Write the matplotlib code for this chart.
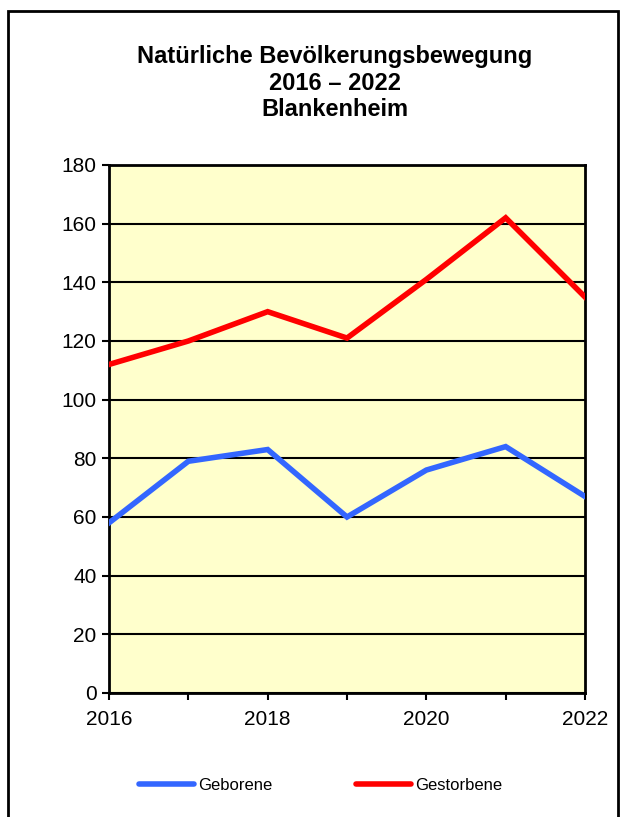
import matplotlib
matplotlib.use('Agg')
import matplotlib.pyplot as plt
from matplotlib.patches import Rectangle
from matplotlib.lines import Line2D

plt.rcParams['font.family'] = ['Liberation Sans', 'DejaVu Sans']

# Daten
jahre = [2016, 2017, 2018, 2019, 2020, 2021, 2022]
geborene = [58, 79, 83, 60, 76, 84, 67]
gestorbene = [112, 120, 130, 121, 141, 162, 135]
x_labels = ['2016', '', '2018', '', '2020', '', '2022']

fig = plt.figure(figsize=(6.25, 8.17), dpi=100)
fig.patches.append(Rectangle((8 / 625, -0.05), 610 / 625, 1.05 - 11 / 817,
                             transform=fig.transFigure, fill=False,
                             edgecolor='black', linewidth=2))

ax = fig.add_axes([109 / 625, 1 - 693 / 817, 476 / 625, 528 / 817])
ax.set_facecolor('#FFFFCC')

ax.plot(jahre, geborene, color='#3366FF', linewidth=4, label='Geborene',
        solid_joinstyle='miter', zorder=3)
ax.plot(jahre, gestorbene, color='#FF0000', linewidth=4, label='Gestorbene',
        solid_joinstyle='miter', zorder=3)

ax.set_xlim(2016, 2022)
ax.set_ylim(0, 180)
ax.set_yticks(range(0, 181, 20))
ax.set_xticks(jahre)
ax.set_xticklabels(x_labels)
ax.yaxis.grid(True, color='black', linewidth=1.5)
ax.set_axisbelow(True)
for s in ax.spines.values():
    s.set_linewidth(2)
ax.tick_params(direction='out', length=5, width=1.5, labelsize=15)
ax.tick_params(axis='x', pad=7)
ax.tick_params(axis='y', pad=4)

fig.text(0.536, 1 - 83 / 817, 'Natürliche Bevölkerungsbewegung\n2016 – 2022\nBlankenheim',
         ha='center', va='center', fontsize=17, fontweight='bold', linespacing=1.2)

handles = [Line2D([], [], color='#3366FF', linewidth=4, solid_capstyle='round'),
           Line2D([], [], color='#FF0000', linewidth=4, solid_capstyle='round')]
fig.legend(handles, ['Geborene', 'Gestorbene'], loc='center',
           bbox_to_anchor=(0.513, 1 - 785 / 817), ncol=2, frameon=False,
           fontsize=12, handlelength=3.3, handletextpad=0.25, columnspacing=5)

fig.savefig('out.png', dpi=100)
